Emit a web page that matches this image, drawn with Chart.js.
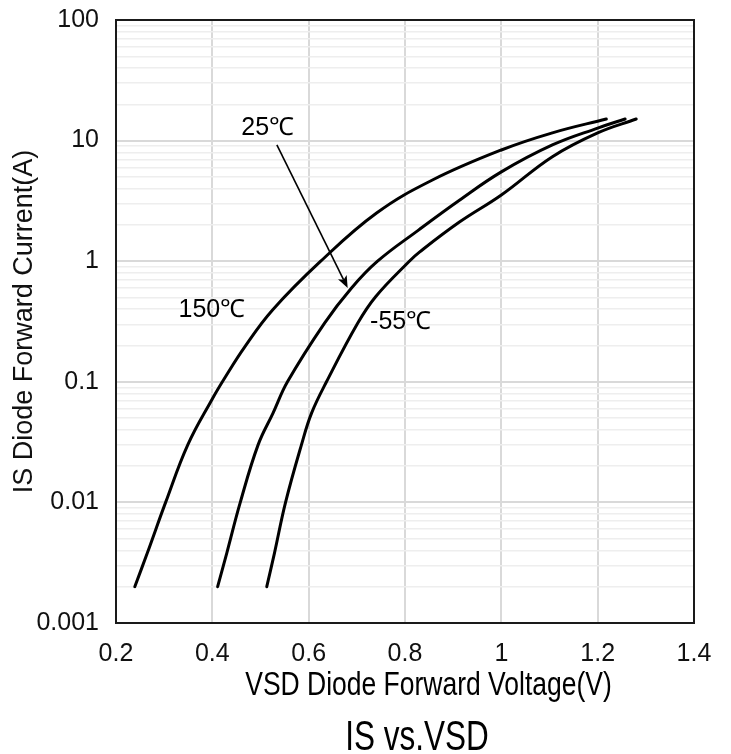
<!DOCTYPE html>
<html>
<head>
<meta charset="utf-8">
<title>IS vs.VSD</title>
<script src="https://cdn.jsdelivr.net/npm/chart.js@4.4.1/dist/chart.umd.min.js"></script>
<style>
  html, body { margin: 0; padding: 0; background: #fff; }
</style>
</head>
<body>
<canvas id="isVsd" width="731" height="754"></canvas>
<script>
// curves: VSD (V) vs IS (A)
var vsd150 = [0.239, 0.265, 0.303, 0.349, 0.399, 0.426, 0.467, 0.525, 0.625, 0.741, 0.857, 1.0, 1.106, 1.218];
var is150 = [0.002, 0.0038, 0.01, 0.03, 0.071, 0.108, 0.194, 0.394, 1.0, 2.51, 4.71, 8.36, 11.6, 15.1];

var vsd25 = [0.411, 0.430, 0.458, 0.495, 0.526, 0.556, 0.633, 0.689, 0.743, 0.828, 0.913, 1.0, 1.106, 1.2, 1.257];
var is25 = [0.002, 0.0038, 0.01, 0.03, 0.055, 0.1, 0.307, 0.6, 1.0, 1.81, 3.2, 5.5, 9.2, 12.7, 15.1];

var vsdM55 = [0.513, 0.529, 0.552, 0.585, 0.606, 0.637, 0.702, 0.739, 0.809, 0.83, 0.913, 1.0, 1.106, 1.2, 1.28];
var isM55 = [0.002, 0.0038, 0.01, 0.03, 0.055, 0.1, 0.307, 0.508, 1.0, 1.19, 2.11, 3.54, 7.36, 11.6, 15.1];

// axes
var xTicks = [0.2, 0.4, 0.6, 0.8, 1.0, 1.2, 1.4];
var xTickLabels = ['0.2', '0.4', '0.6', '0.8', '1', '1.2', '1.4'];
var yDecades = [0.001, 0.01, 0.1, 1, 10, 100];
var yDecadeLabels = ['0.001', '0.01', '0.1', '1', '10', '100'];
var yMinorSteps = [2, 3, 4, 5, 6, 7, 8, 9];

// curve labels and the arrow, in data units
var curveNames = ['25℃', '150℃', '-55℃'];
var curveNameAt = [[0.515, 12.7], [0.399, 0.394], [0.791, 0.313]];
var arrowFrom = [0.534, 9.2];
var arrowTo = [0.681, 0.6];

var FONT = '"Liberation Sans", Arial, sans-serif';

function toPoints(xs, ys) {
    return xs.map(function (x, i) { return { x: x, y: ys[i] }; });
}

function curve(label, xs, ys) {
    return {
        label: label,
        data: toPoints(xs, ys),
        borderColor: '#000',
        borderWidth: 3,
        borderCapStyle: 'round',
        pointRadius: 0,
        tension: 0.4,
        fill: false
    };
}

// labels, arrow, frame and the bottom titles
var notesPlugin = {
    id: 'notes',
    afterDatasetsDraw: function (chart) {
        var ctx = chart.ctx;
        var xs = chart.scales.x;
        var ys = chart.scales.y;
        var a = chart.chartArea;
        ctx.save();

        ctx.fillStyle = '#000';
        ctx.font = '25px ' + FONT;
        ctx.textAlign = 'center';
        ctx.textBaseline = 'middle';
        curveNames.forEach(function (name, i) {
            ctx.fillText(name, xs.getPixelForValue(curveNameAt[i][0]), ys.getPixelForValue(curveNameAt[i][1]));
        });

        var x0 = xs.getPixelForValue(arrowFrom[0]), y0 = ys.getPixelForValue(arrowFrom[1]);
        var x1 = xs.getPixelForValue(arrowTo[0]), y1 = ys.getPixelForValue(arrowTo[1]);
        var ang = Math.atan2(y1 - y0, x1 - x0);
        var head = 13;
        ctx.strokeStyle = '#000';
        ctx.lineWidth = 1.6;
        ctx.beginPath();
        ctx.moveTo(x0, y0);
        ctx.lineTo(x1 - Math.cos(ang) * head * 0.7, y1 - Math.sin(ang) * head * 0.7);
        ctx.stroke();
        ctx.beginPath();
        ctx.moveTo(x1, y1);
        ctx.lineTo(x1 - head * Math.cos(ang - 0.38), y1 - head * Math.sin(ang - 0.38));
        ctx.lineTo(x1 - head * 0.7 * Math.cos(ang), y1 - head * 0.7 * Math.sin(ang));
        ctx.lineTo(x1 - head * Math.cos(ang + 0.38), y1 - head * Math.sin(ang + 0.38));
        ctx.closePath();
        ctx.fill();

        ctx.strokeStyle = '#1a1a1a';
        ctx.lineWidth = 2;
        ctx.strokeRect(a.left, a.top, a.right - a.left, a.bottom - a.top);

        // axis title and chart title sit under the plot, a bit narrow
        ctx.textBaseline = 'alphabetic';
        ctx.save();
        ctx.translate(a.left + 312.5, a.bottom + 72);
        ctx.scale(0.815, 1);
        ctx.font = '32.5px ' + FONT;
        ctx.fillText('VSD Diode Forward Voltage(V)', 0, 0);
        ctx.restore();

        ctx.save();
        ctx.translate(a.left + 301, a.bottom + 127);
        ctx.scale(0.75, 1);
        ctx.font = '42px ' + FONT;
        ctx.fillText('IS vs.VSD', 0, 0);
        ctx.restore();

        ctx.restore();
    }
};

document.addEventListener('DOMContentLoaded', function () {
    var ctx = document.getElementById('isVsd').getContext('2d');

    var yTickValues = [];
    yDecades.forEach(function (d, i) {
        yTickValues.push(d);
        if (i < yDecades.length - 1) {
            yMinorSteps.forEach(function (m) {
                yTickValues.push(Number((d * m).toPrecision(3)));
            });
        }
    });

    new Chart(ctx, {
        type: 'line',
        data: {
            datasets: [
                curve('150℃', vsd150, is150),
                curve('25℃', vsd25, is25),
                curve('-55℃', vsdM55, isM55)
            ]
        },
        options: {
            responsive: false,
            animation: false,
            devicePixelRatio: 1,
            layout: { padding: { top: 20, right: 37, bottom: 0, left: 0 } },
            plugins: {
                legend: { display: false },
                tooltip: { enabled: false }
            },
            scales: {
                x: {
                    type: 'linear',
                    min: 0.2,
                    max: 1.4,
                    afterBuildTicks: function (scale) {
                        scale.ticks = xTicks.map(function (v) { return { value: v }; });
                    },
                    afterFit: function (scale) {
                        scale.height = 131;
                        scale.paddingLeft = 0;
                        scale.paddingRight = 0;
                    },
                    border: { display: false },
                    grid: { color: '#d9d9d9', lineWidth: 2, drawTicks: false },
                    ticks: {
                        autoSkip: false,
                        maxRotation: 0,
                        padding: 16,
                        color: '#111',
                        font: { family: FONT, size: 25 },
                        callback: function (value, index) { return xTickLabels[index]; }
                    }
                },
                y: {
                    type: 'logarithmic',
                    min: 0.001,
                    max: 100,
                    afterBuildTicks: function (scale) {
                        scale.ticks = yTickValues.map(function (v) {
                            return { value: v, major: yDecades.indexOf(v) >= 0 };
                        });
                    },
                    afterFit: function (scale) {
                        scale.width = 116;
                        scale.paddingTop = 0;
                        scale.paddingBottom = 0;
                    },
                    border: { display: false },
                    grid: {
                        drawTicks: false,
                        color: function (c) { return c.tick && c.tick.major ? '#d9d9d9' : '#eeeeee'; },
                        lineWidth: function (c) { return c.tick && c.tick.major ? 2 : 1.5; }
                    },
                    ticks: {
                        autoSkip: false,
                        padding: 17,
                        color: '#111',
                        font: { family: FONT, size: 25 },
                        callback: function (value) {
                            var i = yDecades.indexOf(value);
                            return i >= 0 ? yDecadeLabels[i] : '';
                        }
                    },
                    title: {
                        display: true,
                        text: 'IS Diode Forward Current(A)',
                        color: '#111',
                        font: { family: FONT, size: 27 },
                        padding: { top: 8, bottom: 0 }
                    }
                }
            }
        },
        plugins: [notesPlugin]
    });
});
</script>
</body>
</html>
